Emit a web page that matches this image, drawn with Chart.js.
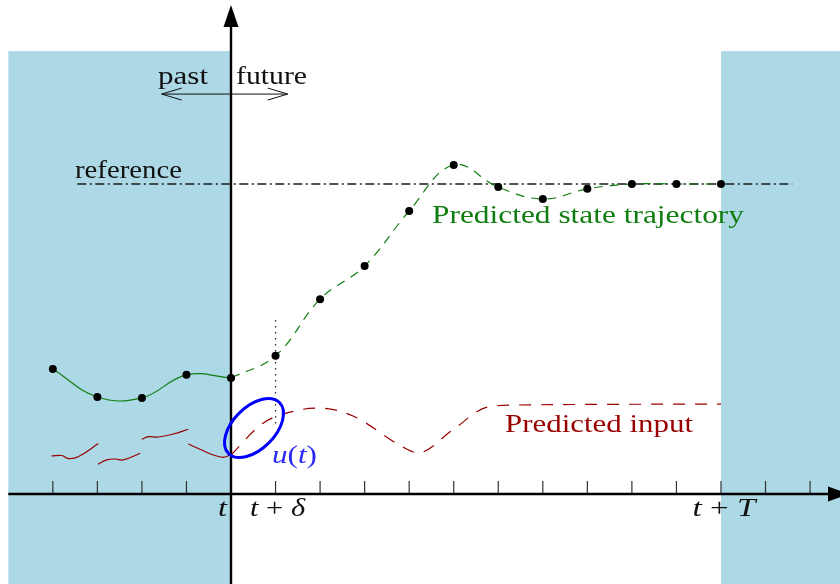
<!DOCTYPE html>
<html>
<head>
<meta charset="utf-8">
<script src="https://cdn.jsdelivr.net/npm/chart.js@4.4.1/dist/chart.umd.min.js"></script>
<style>
  html, body { margin: 0; padding: 0; background: #fff; }
  #wrap { width: 840px; height: 584px; }
</style>
</head>
<body>
<div id="wrap"><canvas id="c" width="840" height="584"></canvas></div>
<script>
// ---------------- data (time in sampling steps, t = 0) ----------------
const pastTimes = [-4, -3, -2, -1, 0];
const pastState = [2.82, 2.19, 2.17, 2.69, 2.62];

const futureTimes = [0, 1, 2, 3, 4, 5, 6, 7, 8, 9, 10, 11];
const predictedState = [2.62, 3.12, 4.40, 5.15, 6.39, 7.43, 6.93, 6.66, 6.89, 7.0, 7.0, 7.0];

const referenceValue = 7.0;
const referenceSpan = [-3.45, 12.6];

// past applied input: piecewise pieces (one per sampling interval)
const pastInput1T = [-4.03, -3.80, -3.65, -3.43, -2.98];
const pastInput1 = [0.86, 0.87, 0.80, 0.84, 1.14];
const pastInput2T = [-2.99, -2.79, -2.60, -2.42, -2.04];
const pastInput2 = [0.67, 0.77, 0.79, 0.77, 0.92];
const pastInput3T = [-2.005, -1.856, -1.632, -1.295, -0.959];
const pastInput3 = [1.235, 1.294, 1.287, 1.355, 1.461];
const pastInput4T = [-0.959, -0.696, -0.397, -0.173, -0.02];
const pastInput4 = [1.129, 1.009, 0.881, 0.829, 0.881];

// predicted input
const inputTimes = [0, 0.72, 1.55, 2.0, 2.74, 3.86, 4.20, 4.98, 5.75, 6.49, 11];
const predictedInput = [0.88, 1.60, 1.90, 1.94, 1.76, 1.06, 0.93, 1.45, 1.96, 2.01, 2.03];

// axis ticks and labels
const tickTimes = [-4, -3, -2, -1, 1, 2, 3, 4, 5, 6, 7, 8, 9, 10, 11, 12, 13];
const horizon = 11;          // t + T
const tickLabels = [
  { at: 0, parts: [['t', true]], align: 'right' },
  { at: 1, parts: [['t', true], [' + ', false], ['δ', true]], align: 'center' },
  { at: horizon, parts: [['t', true], [' + ', false], ['T', true]], align: 'center' }
];

// ---------------- styling ----------------
const GREEN = '#0f7d0f';
const RED = '#990000';
const SERIF = '"Liberation Serif", "DejaVu Serif", serif';

const pts = (xs, ys) => xs.map((x, i) => ({ x: x, y: ys[i] }));

function drawText(ctx, parts, x, baseline, size, targetWidth, align, color) {
  let w = 0;
  const widths = parts.map(p => {
    ctx.font = (p[1] ? 'italic ' : '') + size + 'px ' + SERIF;
    const m = ctx.measureText(p[0]).width;
    w += m;
    return m;
  });
  const sx = targetWidth ? targetWidth / w : 1;
  const total = w * sx;
  let left = x;
  if (align === 'center') left = x - total / 2;
  else if (align === 'right') left = x - total;
  ctx.save();
  ctx.fillStyle = color;
  ctx.textBaseline = 'alphabetic';
  ctx.textAlign = 'left';
  ctx.translate(left, baseline);
  ctx.scale(sx, 1);
  let cx = 0;
  parts.forEach((p, i) => {
    ctx.font = (p[1] ? 'italic ' : '') + size + 'px ' + SERIF;
    ctx.fillText(p[0], cx, 0);
    cx += widths[i];
  });
  ctx.restore();
}

const mpcPlugin = {
  id: 'mpc',
  beforeDatasetsDraw(chart) {
    const ctx = chart.ctx;
    const xs = chart.scales.x, ys = chart.scales.y;
    const X = v => xs.getPixelForValue(v), Y = v => ys.getPixelForValue(v);
    ctx.save();
    // shaded regions: past window and beyond horizon
    ctx.fillStyle = '#add8e6';
    ctx.fillRect(X(-5), Y(10), X(0) - X(-5), Y(ys.min) - Y(10));
    ctx.fillRect(X(horizon), Y(10), X(xs.max) - X(horizon), Y(ys.min) - Y(10));

    // ticks
    ctx.strokeStyle = '#333';
    ctx.lineWidth = 1.2;
    tickTimes.forEach(t => {
      ctx.beginPath();
      ctx.moveTo(X(t), Y(0));
      ctx.lineTo(X(t), Y(0) - 13);
      ctx.stroke();
    });

    // x axis
    ctx.strokeStyle = '#000';
    ctx.fillStyle = '#000';
    ctx.lineWidth = 2.4;
    ctx.beginPath();
    ctx.moveTo(X(-5), Y(0));
    ctx.lineTo(829, Y(0));
    ctx.stroke();
    ctx.beginPath();
    ctx.moveTo(828, Y(0) - 7.5);
    ctx.lineTo(849, Y(0));
    ctx.lineTo(828, Y(0) + 7.5);
    ctx.closePath();
    ctx.fill();

    // y axis
    ctx.beginPath();
    ctx.moveTo(X(0), Y(ys.min));
    ctx.lineTo(X(0), 26);
    ctx.stroke();
    ctx.beginPath();
    ctx.moveTo(X(0) - 7.5, 27);
    ctx.lineTo(X(0), 5);
    ctx.lineTo(X(0) + 7.5, 27);
    ctx.closePath();
    ctx.fill();

    // reference line (dash-dot)
    ctx.strokeStyle = '#1a1a1a';
    ctx.lineWidth = 1.3;
    ctx.setLineDash([9, 3.5, 2, 3.5]);
    ctx.beginPath();
    ctx.moveTo(X(referenceSpan[0]), Y(referenceValue));
    ctx.lineTo(X(referenceSpan[1]), Y(referenceValue));
    ctx.stroke();

    // dotted marker at t + delta
    ctx.strokeStyle = '#222';
    ctx.lineWidth = 1.2;
    ctx.setLineDash([1.5, 4.5]);
    ctx.beginPath();
    ctx.moveTo(X(1), Y(3.93));
    ctx.lineTo(X(1), Y(1.56));
    ctx.stroke();
    ctx.setLineDash([]);

    // past / future double arrow
    const ay = Y(9.03), al = X(-1.556), ar = X(1.273);
    ctx.strokeStyle = '#111';
    ctx.lineWidth = 1;
    ctx.beginPath();
    ctx.moveTo(al, ay); ctx.lineTo(ar, ay);
    ctx.moveTo(al + 20, ay - 6); ctx.lineTo(al, ay); ctx.lineTo(al + 20, ay + 6);
    ctx.moveTo(ar - 20, ay - 6); ctx.lineTo(ar, ay); ctx.lineTo(ar - 20, ay + 6);
    ctx.stroke();
    ctx.restore();
  },
  afterDatasetsDraw(chart) {
    const ctx = chart.ctx;
    const xs = chart.scales.x, ys = chart.scales.y;
    const X = v => xs.getPixelForValue(v), Y = v => ys.getPixelForValue(v);
    ctx.save();
    // u(t) highlight ellipse
    ctx.strokeStyle = '#0000ff';
    ctx.lineWidth = 3;
    ctx.beginPath();
    ctx.ellipse(X(0.516), Y(1.49), 36, 21, -Math.PI / 4, 0, 2 * Math.PI);
    ctx.stroke();

    // texts
    drawText(ctx, [['reference', false]], 75, 178, 25, 107, 'left', '#111');
    drawText(ctx, [['past', false]], 158, 84, 25, 50, 'left', '#111');
    drawText(ctx, [['future', false]], 236, 84, 25, 71, 'left', '#111');
    drawText(ctx, [['Predicted state trajectory', false]], 432, 223, 25, 312, 'left', GREEN);
    drawText(ctx, [['Predicted input', false]], 505, 432, 25, 188, 'left', RED);
    drawText(ctx, [['u', true], ['(', false], ['t', true], [')', false]], 272, 463, 25, 45, 'left', '#2a2af5');
    const tw = { 0: 9, 1: 55, 11: 63 };
    tickLabels.forEach(l => {
      const x = l.align === 'right' ? X(l.at) - 4 : X(l.at) + (l.at === 1 ? 2 : 3);
      drawText(ctx, l.parts, x, 516, 25, tw[l.at], l.align, '#111');
    });
    ctx.restore();
  }
};

const lineBase = { showLine: true, pointRadius: 0, borderWidth: 1.2, fill: false };

const allStateT = pastTimes.concat(futureTimes.slice(1));
const allState = pastState.concat(predictedState.slice(1));

new Chart(document.getElementById('c'), {
  type: 'scatter',
  data: {
    datasets: [
      { label: 'samples', data: pts(allStateT, allState), showLine: false,
        pointRadius: 4, pointBackgroundColor: '#000', pointBorderWidth: 0 },
      Object.assign({ label: 'past state', data: pts(pastTimes, pastState),
        borderColor: GREEN, tension: 0.4 }, lineBase),
      Object.assign({ label: 'Predicted state trajectory', data: pts(futureTimes, predictedState),
        borderColor: GREEN, borderDash: [9, 7], tension: 0.4 }, lineBase),
      Object.assign({ label: 'past input 1', data: pts(pastInput1T, pastInput1), borderColor: RED, tension: 0.4 }, lineBase),
      Object.assign({ label: 'past input 2', data: pts(pastInput2T, pastInput2), borderColor: RED, tension: 0.4 }, lineBase),
      Object.assign({ label: 'past input 3', data: pts(pastInput3T, pastInput3), borderColor: RED, tension: 0.4 }, lineBase),
      Object.assign({ label: 'past input 4', data: pts(pastInput4T, pastInput4), borderColor: RED, tension: 0.4 }, lineBase),
      Object.assign({ label: 'Predicted input', data: pts(inputTimes, predictedInput),
        borderColor: RED, borderDash: [12, 10], cubicInterpolationMode: 'monotone' }, lineBase)
    ]
  },
  options: {
    responsive: false,
    animation: false,
    events: [],
    layout: { padding: 0, autoPadding: false },
    plugins: { legend: { display: false }, tooltip: { enabled: false } },
    scales: {
      x: { type: 'linear', display: false, min: -5.186, max: 13.672 },
      y: { type: 'linear', display: false, min: -2.032, max: 11.154 }
    }
  },
  plugins: [mpcPlugin]
});
</script>
</body>
</html>
